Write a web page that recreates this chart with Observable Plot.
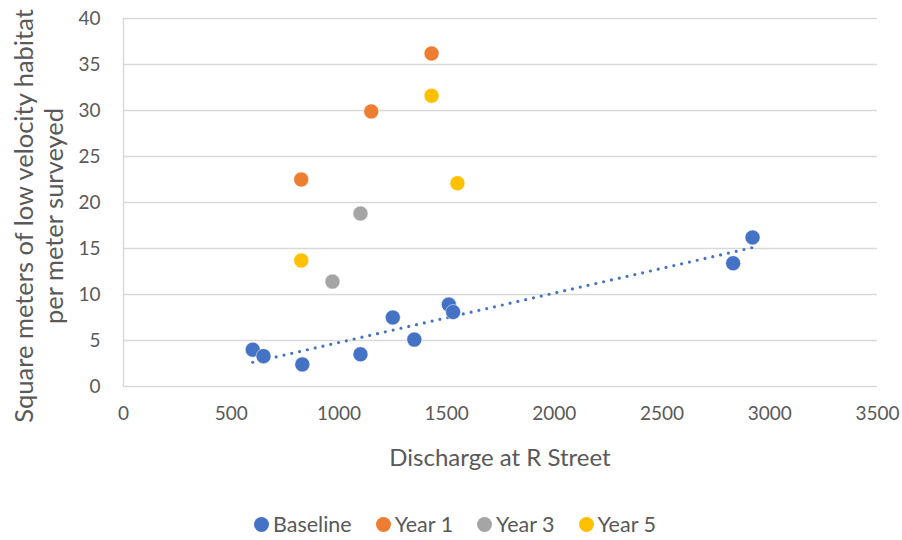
<!DOCTYPE html>
<html>
<head>
<meta charset="utf-8">
<script src="https://cdn.jsdelivr.net/npm/d3@7"></script>
<script src="https://cdn.jsdelivr.net/npm/@observablehq/plot@0.6"></script>
<style>
  body { margin: 0; background: #fff; font-family: Lato, "Open Sans", sans-serif; }
  #chart { width: 902px; }
  .legend { display: flex; justify-content: center; gap: 24px; margin-top: 21px; margin-left: 8px; font-size: 21.5px; color: #595959; }
  .legend span.item { display: flex; align-items: center; gap: 4px; }
  .legend span.sw { width: 15px; height: 15px; border-radius: 50%; display: inline-block; }
</style>
</head>
<body>
<div id="chart"></div>
<script>
const seriesNames = ["Baseline", "Year 1", "Year 3", "Year 5"];
const seriesColors = ["#4472C4", "#ED7D31", "#A5A5A5", "#FFC000"];

const baselineX = [600, 650, 830, 1100, 1250, 1350, 1510, 1530, 2830, 2920];
const baselineY = [4.0, 3.3, 2.4, 3.5, 7.5, 5.1, 8.9, 8.1, 13.4, 16.2];
const year1X = [825, 1150, 1430];
const year1Y = [22.5, 29.9, 36.2];
const year3X = [970, 1100];
const year3Y = [11.4, 18.8];
const year5X = [825, 1430, 1550];
const year5Y = [13.7, 31.6, 22.1];

const xTicks = [0, 500, 1000, 1500, 2000, 2500, 3000, 3500];
const yTicks = [0, 5, 10, 15, 20, 25, 30, 35, 40];

const xTitle = "Discharge at R Street";
const yTitleLines = ["Square meters of low velocity habitat", "per meter surveyed"];

function rows(name, xs, ys) { return xs.map((x, i) => ({series: name, x, y: ys[i]})); }
const baseline = rows("Baseline", baselineX, baselineY);
const data = [
  ...baseline,
  ...rows("Year 1", year1X, year1Y),
  ...rows("Year 3", year3X, year3Y),
  ...rows("Year 5", year5X, year5Y)
];

const W = 902, H = 490;
const plot = Plot.plot({
  width: W,
  height: H,
  marginLeft: 123,
  marginRight: 25,
  marginTop: 18,
  marginBottom: H - 386,
  style: { fontFamily: "Lato, 'Open Sans', sans-serif", fontSize: "19px", color: "#595959", background: "#fff" },
  x: { domain: [0, 3500], ticks: xTicks, tickFormat: d => String(d), tickSize: 0, tickPadding: 20, label: null },
  y: { domain: [0, 40], ticks: yTicks, tickFormat: d => String(d), tickSize: 0, tickPadding: 23, label: null },
  color: { domain: seriesNames, range: seriesColors },
  marks: [
    Plot.ruleY(yTicks, { stroke: "#d9d9d9", strokeWidth: 1.5 }),
    Plot.ruleX([0], { stroke: "#d9d9d9", strokeWidth: 1.5 }),
    Plot.linearRegressionY(baseline, { x: "x", y: "y", ci: 0, stroke: "#4472C4", strokeWidth: 3.2, strokeDasharray: "0,8", strokeLinecap: "round" }),
    Plot.dot(data, { x: "x", y: "y", fill: "series", r: 7.5, stroke: "white", strokeWidth: 0.5 })
  ]
});
document.getElementById("chart").appendChild(plot);

const svg = d3.select(plot);
svg.append("text")
  .attr("x", 500).attr("y", 466)
  .attr("text-anchor", "middle")
  .attr("fill", "#595959")
  .attr("font-size", "24px")
  .text(xTitle);
const yt = svg.append("text")
  .attr("transform", "translate(33,216) rotate(-90)")
  .attr("text-anchor", "middle")
  .attr("fill", "#595959")
  .attr("font-size", "25.5px");
yTitleLines.forEach((t, i) => {
  yt.append("tspan").attr("x", 0).attr("y", i * 30).text(t);
});

const legend = d3.select("body").append("div").attr("class", "legend");
seriesNames.forEach((n, i) => {
  const it = legend.append("span").attr("class", "item");
  it.append("span").attr("class", "sw").style("background", seriesColors[i]);
  it.append("span").text(n);
});
</script>
</body>
</html>
